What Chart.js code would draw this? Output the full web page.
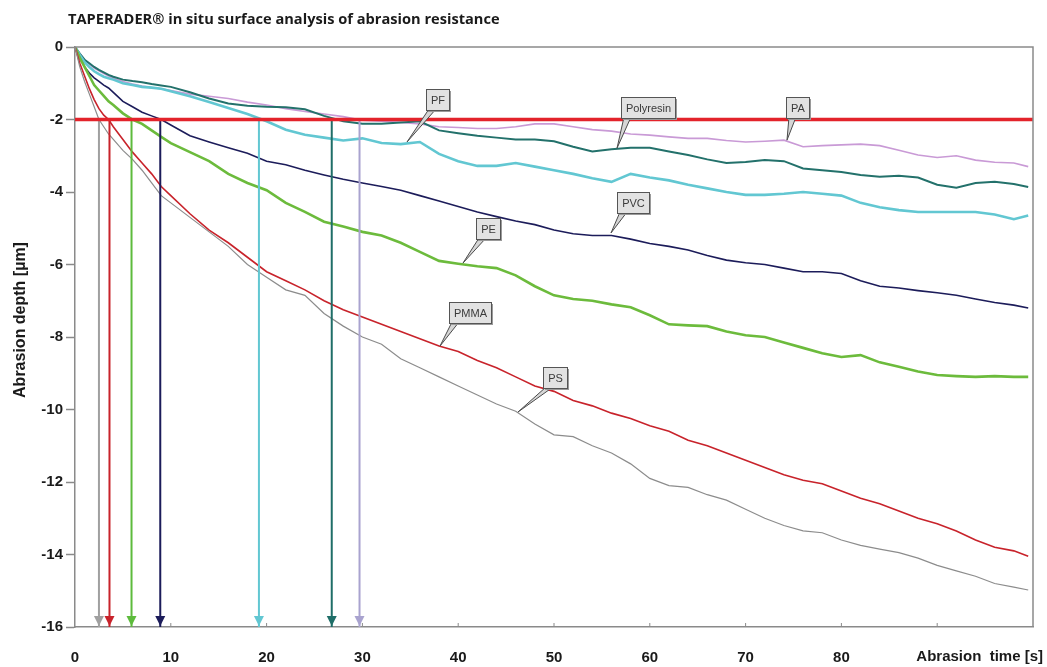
<!DOCTYPE html>
<html><head><meta charset="utf-8">
<script src="https://cdn.jsdelivr.net/npm/chart.js@4.4.1/dist/chart.umd.min.js"></script>
<style>html,body{margin:0;padding:0;background:#fff;}canvas{display:block;}</style>
</head><body>
<canvas id="c" width="1047" height="667"></canvas>
<script>
// ---- data (abrasion time in s, abrasion depth in µm) ----
const timeS = [0,0.5,1,1.5,2,2.5,3,3.5,4,5,6,7,8,9,10,
  12,14,16,18,20,22,24,26,28,30,32,34,36,38,40,42,44,46,48,50,
  52,54,56,58,60,62,64,66,68,70,72,74,76,78,80,82,84,86,88,90,
  92,94,96,98,99.5];
const psDepth = [0,-0.55,-0.95,-1.3,-1.65,-2.0,-2.2,-2.4,-2.55,-2.85,-3.1,-3.4,-3.75,-4.1,-4.3,
  -4.7,-5.1,-5.5,-6.0,-6.35,-6.7,-6.85,-7.35,-7.7,-8.0,
  -8.2,-8.6,-8.85,-9.1,-9.35,-9.6,-9.85,-10.05,-10.4,-10.7,
  -10.75,-11.0,-11.2,-11.5,-11.9,-12.1,-12.15,-12.35,-12.5,-12.75,
  -13.0,-13.2,-13.35,-13.4,-13.6,-13.75,-13.85,-13.95,-14.1,-14.3,
  -14.45,-14.6,-14.8,-14.9,-14.98];
const pmmaDepth = [0,-0.45,-0.8,-1.15,-1.45,-1.7,-1.88,-2.0,-2.2,-2.55,-2.9,-3.2,-3.5,-3.85,-4.1,
  -4.6,-5.05,-5.4,-5.8,-6.2,-6.45,-6.7,-7.0,-7.25,-7.45,
  -7.65,-7.85,-8.05,-8.25,-8.4,-8.65,-8.85,-9.1,-9.35,-9.5,
  -9.75,-9.9,-10.1,-10.25,-10.45,-10.6,-10.85,-11.0,-11.2,-11.4,
  -11.6,-11.8,-11.95,-12.05,-12.25,-12.45,-12.6,-12.8,-13.0,-13.15,
  -13.35,-13.6,-13.8,-13.9,-14.05];
const peDepth = [0,-0.3,-0.55,-0.8,-1.05,-1.2,-1.35,-1.5,-1.6,-1.83,-2.0,-2.12,-2.3,-2.48,-2.65,
  -2.9,-3.15,-3.5,-3.75,-3.95,-4.3,-4.55,-4.82,-4.95,-5.1,
  -5.2,-5.4,-5.65,-5.9,-5.98,-6.05,-6.1,-6.3,-6.6,-6.85,
  -6.95,-7.0,-7.1,-7.18,-7.4,-7.65,-7.68,-7.7,-7.85,-7.95,
  -8.0,-8.15,-8.3,-8.45,-8.55,-8.5,-8.7,-8.82,-8.95,-9.05,
  -9.08,-9.1,-9.08,-9.1,-9.1];
const pvcDepth = [0,-0.3,-0.55,-0.72,-0.85,-0.95,-1.05,-1.13,-1.25,-1.5,-1.65,-1.8,-1.9,-2.0,-2.15,
  -2.45,-2.62,-2.78,-2.93,-3.15,-3.25,-3.4,-3.53,-3.65,-3.75,
  -3.85,-3.95,-4.1,-4.25,-4.4,-4.55,-4.68,-4.8,-4.9,-5.05,
  -5.15,-5.2,-5.2,-5.3,-5.42,-5.5,-5.6,-5.75,-5.88,-5.95,
  -6.0,-6.1,-6.2,-6.2,-6.25,-6.45,-6.6,-6.65,-6.72,-6.78,
  -6.85,-6.95,-7.05,-7.12,-7.2];
const pfDepth = [0,-0.22,-0.42,-0.55,-0.67,-0.75,-0.82,-0.86,-0.9,-1.0,-1.05,-1.1,-1.12,-1.15,-1.22,
  -1.36,-1.52,-1.68,-1.85,-2.05,-2.28,-2.42,-2.5,-2.58,-2.52,
  -2.65,-2.68,-2.62,-2.95,-3.15,-3.28,-3.28,-3.2,-3.3,-3.4,
  -3.5,-3.62,-3.72,-3.5,-3.6,-3.68,-3.8,-3.9,-4.0,-4.08,
  -4.08,-4.05,-4.0,-4.05,-4.1,-4.3,-4.42,-4.5,-4.55,-4.55,
  -4.55,-4.55,-4.62,-4.75,-4.65];
const polyresinDepth = [0,-0.18,-0.35,-0.45,-0.55,-0.63,-0.7,-0.77,-0.82,-0.9,-0.94,-0.97,-1.02,-1.06,-1.1,
  -1.25,-1.42,-1.56,-1.62,-1.65,-1.66,-1.72,-1.9,-2.05,-2.12,
  -2.12,-2.08,-2.05,-2.3,-2.38,-2.45,-2.5,-2.55,-2.55,-2.6,
  -2.75,-2.88,-2.82,-2.78,-2.78,-2.88,-2.98,-3.1,-3.2,-3.17,
  -3.12,-3.15,-3.35,-3.4,-3.45,-3.53,-3.58,-3.55,-3.6,-3.8,
  -3.88,-3.75,-3.72,-3.78,-3.86];
const paDepth = [0,-0.18,-0.35,-0.47,-0.58,-0.66,-0.73,-0.8,-0.86,-0.95,-1.02,-1.08,-1.12,-1.15,-1.2,
  -1.3,-1.36,-1.42,-1.52,-1.6,-1.7,-1.78,-1.85,-1.92,-2.02,
  -2.05,-2.08,-2.12,-2.2,-2.22,-2.25,-2.25,-2.2,-2.12,-2.12,
  -2.2,-2.28,-2.32,-2.4,-2.43,-2.48,-2.52,-2.52,-2.58,-2.62,
  -2.6,-2.57,-2.75,-2.72,-2.7,-2.68,-2.72,-2.85,-2.98,-3.05,
  -3.0,-3.12,-3.18,-3.2,-3.3];
const limitDepth = -2;                                   // red reference line
const crossTimes = [2.5, 3.6, 5.9, 8.9, 19.2, 26.8, 29.7]; // where each curve reaches -2 µm
const yTicks = [0,-2,-4,-6,-8,-10,-12,-14,-16];
const xTickLabels = [0,10,20,30,40,50,60,70,80];

// callouts: label and the point on its curve (time, depth)
const calloutLabels = ['PF','Polyresin','PA','PVC','PE','PMMA','PS'];
const calloutTime  = [34.66, 56.58, 74.32, 55.95, 40.5, 38.1, 46.24];
const calloutDepth = [-2.62, -2.79, -2.57, -5.13, -5.96, -8.25, -10.07];

// ---- styles ----
const series = [
  {label:'PS', data: psDepth, color:'#8c8c8c', w:1.2},
  {label:'PMMA', data: pmmaDepth, color:'#c8232b', w:1.6},
  {label:'PE', data: peDepth, color:'#6cbb3c', w:2.6},
  {label:'PVC', data: pvcDepth, color:'#1c1c5a', w:1.6},
  {label:'PF', data: pfDepth, color:'#62c7d2', w:2.6},
  {label:'Polyresin', data: polyresinDepth, color:'#23716b', w:2.0},
  {label:'PA', data: paDepth, color:'#c99ad6', w:1.6}
];
const arrowColors = ['#a0a0a0','#c8232b','#5dbb3c','#1c1c5a','#62c7d2','#1f6e68','#a9a3cf'];
const calloutOffsets = [[30.5,-42.5],[30.5,-40.5],[10.5,-32.5],[22,-30.5],[25.5,-34.5],[30,-34],[37,-35]];

const datasets = [];
datasets.push({label:'limit', data:[{x:0,y:limitDepth},{x:100,y:limitDepth}], borderColor:'#e3232b', borderWidth:3.5, pointRadius:0, order:0});
crossTimes.forEach((t,i)=>{
  datasets.push({label:'arrow'+i, isArrow:true, data:[{x:t,y:limitDepth},{x:t,y:-16}], borderColor:arrowColors[i], borderWidth:2, pointRadius:0, order:1});
});
series.forEach((s,i)=>{
  datasets.push({label:s.label, data: timeS.map((t,k)=>({x:t,y:s.data[k]})), borderColor:s.color, borderWidth:s.w, pointRadius:0, tension:0, order:2+i});
});

const decor = {
  id:'decor',
  afterDatasetsDraw(chart){
    const {ctx, chartArea:a, scales:{x,y}} = chart;
    ctx.save();
    ctx.strokeStyle = '#8a8a8a'; ctx.lineWidth = 1.5;
    ctx.beginPath(); ctx.moveTo(a.left, a.top); ctx.lineTo(a.right, a.top); ctx.lineTo(a.right, a.bottom); ctx.stroke();
    ctx.lineWidth = 1;
    for (let v = 10; v <= 90; v += 10) {
      const px = x.getPixelForValue(v);
      ctx.beginPath(); ctx.moveTo(px, a.bottom); ctx.lineTo(px, a.bottom - 4); ctx.stroke();
    }
    chart.data.datasets.forEach((ds, i) => {
      if (!ds.isArrow) return;
      const p = chart.getDatasetMeta(i).data[1];
      ctx.fillStyle = ds.borderColor;
      ctx.beginPath(); ctx.moveTo(p.x, p.y - 1); ctx.lineTo(p.x - 5, p.y - 11); ctx.lineTo(p.x + 5, p.y - 11); ctx.closePath(); ctx.fill();
    });
    ctx.font = '11px "Liberation Sans", Arial, sans-serif';
    ctx.textBaseline = 'middle'; ctx.textAlign = 'center';
    calloutLabels.forEach((lab, i) => {
      const tx = x.getPixelForValue(calloutTime[i]);
      const ty = y.getPixelForValue(calloutDepth[i]);
      const cx = tx + calloutOffsets[i][0], cy = ty + calloutOffsets[i][1];
      const w = Math.round(ctx.measureText(lab).width + 9), h = 21;
      const bx = Math.round(cx - w/2), by = Math.round(cy - h/2);
      ctx.fillStyle = '#d6d6d6'; ctx.strokeStyle = '#4a4a4a'; ctx.lineWidth = 1;
      ctx.beginPath(); ctx.moveTo(bx + 3, by + h - 1); ctx.lineTo(tx, ty); ctx.lineTo(bx + 10, by + h - 1); ctx.closePath();
      ctx.fill(); ctx.stroke();
      ctx.fillStyle = '#9a9a9a'; ctx.fillRect(bx + 2, by + 2, w, h);
      ctx.fillStyle = '#e2e2e2'; ctx.fillRect(bx, by, w, h);
      ctx.strokeStyle = '#555'; ctx.strokeRect(bx + 0.5, by + 0.5, w, h);
      ctx.fillStyle = '#3a3a3a'; ctx.fillText(lab, bx + w/2 + 0.5, by + h/2 + 1);
    });
    ctx.restore();
  },
  afterDraw(chart){
    const {ctx} = chart;
    ctx.save();
    ctx.fillStyle = '#1a1a1a'; ctx.textBaseline = 'middle';
    const title = 'TAPERADER® in situ surface analysis of abrasion resistance';
    ctx.font = 'bold 15px "Open Sans", sans-serif';
    let s = 15 * 432 / ctx.measureText(title).width;
    ctx.font = 'bold ' + s.toFixed(2) + 'px "Open Sans", sans-serif';
    ctx.textAlign = 'left'; ctx.fillText(title, 68, 20);
    ctx.font = 'bold 15px "Liberation Sans", Arial, sans-serif';
    ctx.textAlign = 'right'; ctx.fillText('Abrasion  time [s]', 1043, 657);
    ctx.font = 'bold 16px "Liberation Sans", Arial, sans-serif';
    ctx.translate(21, 320); ctx.rotate(-Math.PI/2);
    ctx.textAlign = 'center'; ctx.fillText('Abrasion depth [µm]', 0, 0);
    ctx.restore();
  }
};

Chart.defaults.font.family = '"Liberation Sans", Arial, sans-serif';
new Chart(document.getElementById('c'), {
  type:'line',
  data:{datasets},
  options:{
    responsive:false, animation:false, devicePixelRatio:1,
    layout:{padding:{left:0, top:47, right:14, bottom:0}},
    plugins:{legend:{display:false}, title:{display:false}, tooltip:{enabled:false}},
    scales:{
      x:{type:'linear', min:0, max:100,
        afterFit(s){ s.height = 40; },
        afterBuildTicks(s){ s.ticks = xTickLabels.map(v=>({value:v})); },
        ticks:{font:{size:15, weight:'bold'}, color:'#1a1a1a', padding:22, maxRotation:0, autoSkip:false},
        grid:{display:true, drawOnChartArea:false, drawTicks:false, color:'#8a8a8a'},
        border:{display:true, color:'#8a8a8a', width:1.5}
      },
      y:{type:'linear', min:-16, max:0,
        afterFit(s){ s.width = 75; },
        afterBuildTicks(s){ s.ticks = yTicks.map(v=>({value:v})); },
        ticks:{font:{size:15, weight:'bold'}, color:'#1a1a1a', padding:3, autoSkip:false},
        grid:{display:true, drawOnChartArea:false, drawTicks:true, tickLength:9, color:'#8a8a8a', tickWidth:1.5},
        border:{display:true, color:'#8a8a8a', width:1.5}
      }
    }
  },
  plugins:[decor]
});
</script>
</body></html>
